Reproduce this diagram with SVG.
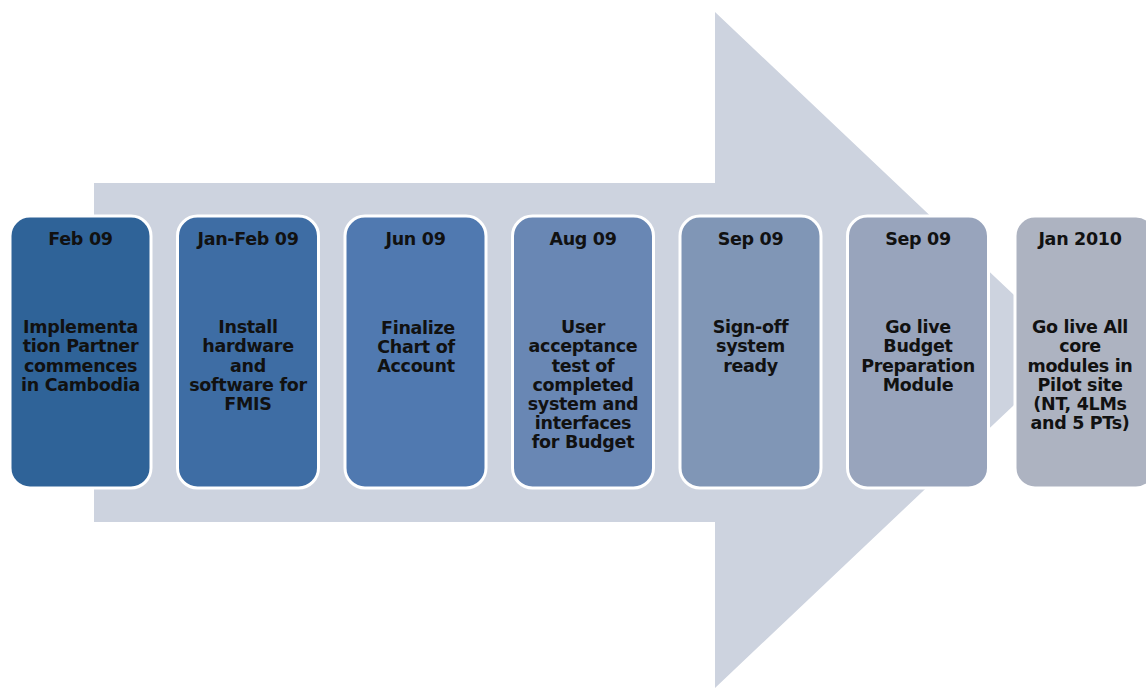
<svg xmlns="http://www.w3.org/2000/svg" width="1146" height="688" viewBox="0 0 1146 688">
  <style>
    .box { stroke: #ffffff; stroke-width: 3; }
    .t { font-family: "DejaVu Sans", Verdana, sans-serif; font-weight: bold; font-size: 17.5px; fill: #111111; text-anchor: middle; letter-spacing: -0.3px; }
  </style>
  <rect width="1146" height="688" fill="#ffffff"/>
  <!-- background block arrow -->
  <g id="connectors">
    <polygon points="94,183 715,183 715,12 1072,350 715,688 715,522 94,522" fill="#CDD3DF"/>
  </g>
  <g id="n1">
    <rect class="box" x="10" y="216" width="141" height="272" rx="20" fill="#2F6398"/>
    <text class="t" x="80.5" y="245">Feb 09</text>
    <text class="t" x="80.5" y="333">Implementa</text>
    <text class="t" x="80.5" y="352">tion Partner</text>
    <text class="t" x="80.5" y="372">commences</text>
    <text class="t" x="80.5" y="391">in Cambodia</text>
  </g>
  <g id="n2">
    <rect class="box" x="177.5" y="216" width="141" height="272" rx="20" fill="#3E6DA4"/>
    <text class="t" x="248" y="245">Jan-Feb 09</text>
    <text class="t" x="248" y="333">Install</text>
    <text class="t" x="248" y="352">hardware</text>
    <text class="t" x="248" y="372">and</text>
    <text class="t" x="248" y="391">software for</text>
    <text class="t" x="248" y="410">FMIS</text>
  </g>
  <g id="n3">
    <rect class="box" x="345" y="216" width="141" height="272" rx="20" fill="#5079B0"/>
    <text class="t" x="415.5" y="245">Jun 09</text>
    <text class="t" x="418" y="334">Finalize</text>
    <text class="t" x="416" y="353">Chart of</text>
    <text class="t" x="416" y="372">Account</text>
  </g>
  <g id="n4">
    <rect class="box" x="512.5" y="216" width="141" height="272" rx="20" fill="#6987B4"/>
    <text class="t" x="583" y="245">Aug 09</text>
    <text class="t" x="583" y="333">User</text>
    <text class="t" x="583" y="352">acceptance</text>
    <text class="t" x="583" y="372">test of</text>
    <text class="t" x="583" y="391">completed</text>
    <text class="t" x="583" y="410">system and</text>
    <text class="t" x="583" y="429">interfaces</text>
    <text class="t" x="583" y="448">for Budget</text>
  </g>
  <g id="n5">
    <rect class="box" x="680" y="216" width="141" height="272" rx="20" fill="#8096B6"/>
    <text class="t" x="750.5" y="245">Sep 09</text>
    <text class="t" x="750.5" y="333">Sign-off</text>
    <text class="t" x="750.5" y="352">system</text>
    <text class="t" x="750.5" y="372">ready</text>
  </g>
  <g id="n6">
    <rect class="box" x="847.5" y="216" width="141" height="272" rx="20" fill="#98A4BC"/>
    <text class="t" x="918" y="245">Sep 09</text>
    <text class="t" x="918" y="333">Go live</text>
    <text class="t" x="918" y="352">Budget</text>
    <text class="t" x="918" y="372">Preparation</text>
    <text class="t" x="918" y="391">Module</text>
  </g>
  <g id="n7">
    <rect class="box" x="1015" y="216" width="141" height="272" rx="20" fill="#ADB3C1"/>
    <text class="t" x="1080" y="245">Jan 2010</text>
    <text class="t" x="1080" y="333">Go live All</text>
    <text class="t" x="1080" y="352">core</text>
    <text class="t" x="1080" y="372">modules in</text>
    <text class="t" x="1080" y="391">Pilot site</text>
    <text class="t" x="1080" y="410">(NT, 4LMs</text>
    <text class="t" x="1080" y="429">and 5 PTs)</text>
  </g>
</svg>
